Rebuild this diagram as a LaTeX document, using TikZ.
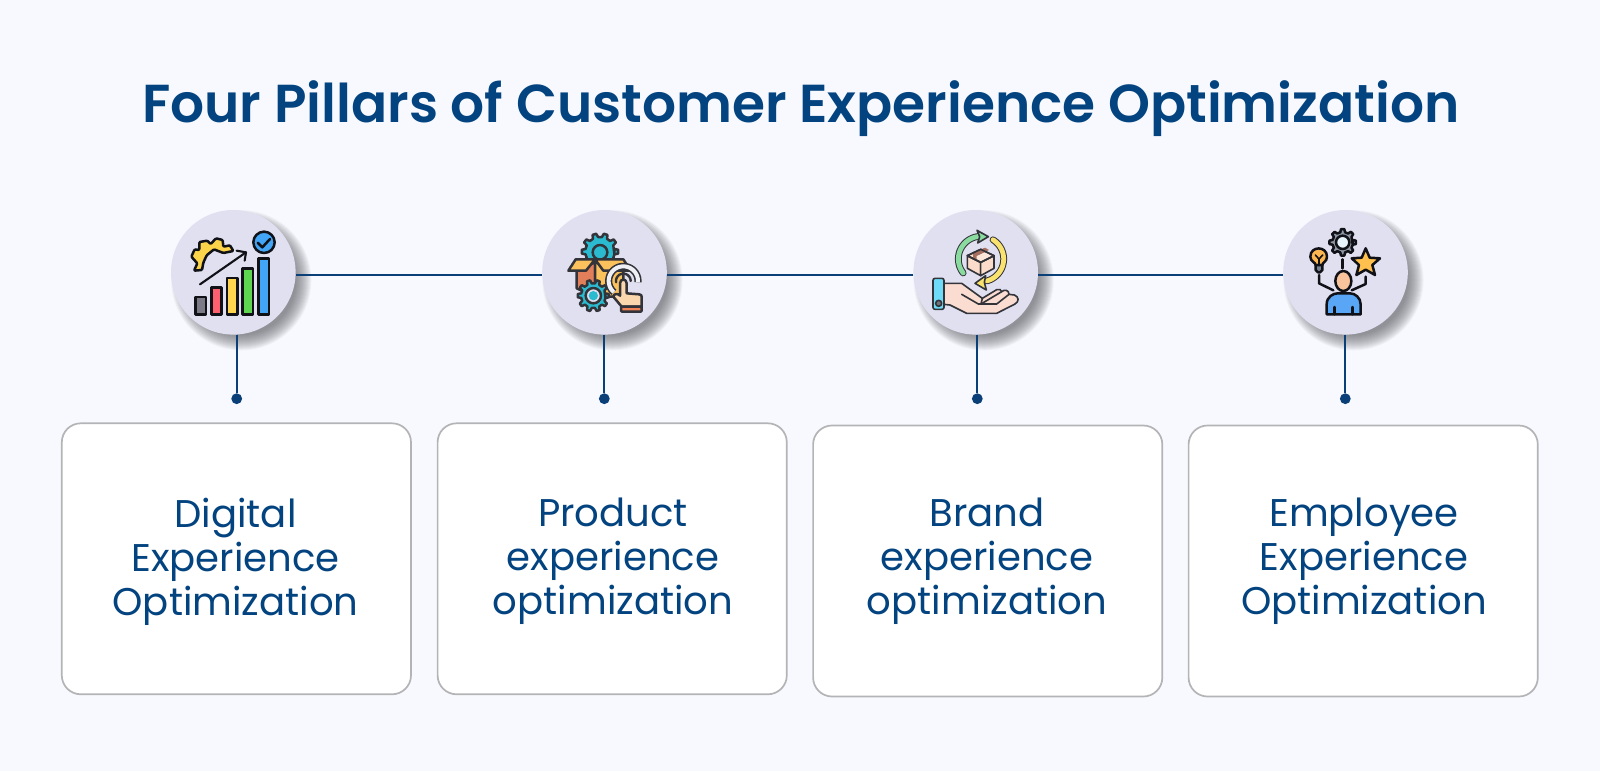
\documentclass[tikz,border=0pt]{standalone}
\usepackage{fontspec}
\setmainfont{Poppins}[BoldFont={Poppins SemiBold}]
\definecolor{bgc}{HTML}{F7F9FE}
\definecolor{navy}{HTML}{03437F}
\definecolor{linec}{HTML}{0A3F78}
\definecolor{circ}{HTML}{E1E0F1}
\definecolor{edge}{HTML}{B4B4B6}
\definecolor{ink}{HTML}{111118}
\definecolor{ink2}{HTML}{33333A}
\definecolor{shadowc}{HTML}{55555C}
\definecolor{cgear}{HTML}{FBD44A}
\definecolor{cgray}{HTML}{7C7A86}
\definecolor{cred}{HTML}{FF6070}
\definecolor{cyel}{HTML}{FFD54F}
\definecolor{cgrn}{HTML}{5FD64F}
\definecolor{cblu}{HTML}{42A5F5}
\definecolor{cteal}{HTML}{2BBBD0}
\definecolor{cdorange}{HTML}{E07F5A}
\definecolor{cbox}{HTML}{FBC15C}
\definecolor{cring}{HTML}{EFEFF6}
\definecolor{cpeach}{HTML}{FAD7AC}
\definecolor{ccuff}{HTML}{F08255}
\definecolor{chand}{HTML}{FADCD0}
\definecolor{csky}{HTML}{6EDCF8}
\definecolor{cbtn}{HTML}{73737A}
\definecolor{ccube}{HTML}{FBDCCB}
\definecolor{ccubet}{HTML}{FDE6DA}
\definecolor{ctape}{HTML}{A56E5F}
\definecolor{cmint}{HTML}{8ADBA0}
\definecolor{clemon}{HTML}{F9E36E}
\definecolor{csteel}{HTML}{8D97A6}
\definecolor{cice}{HTML}{E8F4FC}
\definecolor{cbulb}{HTML}{FDB750}
\definecolor{cbase}{HTML}{788291}
\definecolor{cstar}{HTML}{FFC04D}
\definecolor{cshirt}{HTML}{58A6F5}
\definecolor{cskin}{HTML}{F9C39B}
\tikzset{
  circlenode/.style={circle,fill=circ,minimum size=62.3pt,inner sep=0pt,outer sep=0pt},
  cardbox/.style={draw=edge,fill=white,line width=0.85pt,rounded corners=9.5pt,minimum width=174.6pt,minimum height=135.5pt,inner sep=0pt},
  cardtext/.style={text=navy,align=center,font=\fontsize{19.3}{22}\selectfont,inner sep=0pt},
  titletext/.style={text=navy,font=\bfseries\fontsize{26.7}{32}\selectfont,inner sep=0pt},
  linkline/.style={draw=linec,line width=0.95pt},
  dotnode/.style={circle,fill=linec,minimum size=5.4pt,inner sep=0pt},
  icon/.style={line width=1.25pt,line join=round,line cap=round},
  zoomed/.style={x=0.16667pt,y=-0.16667pt}
}
% style, cx, cy, outer, inner, teeth
\newcommand{\gearat}[6]{%
  \path[#1] ({#2+#5*cos(-108/#6)},{#3-#5*sin(-108/#6)})
    \foreach \gi in {1,...,#6}{
      -- ({#2+#5*cos(360*\gi/#6-108/#6)},{#3-#5*sin(360*\gi/#6-108/#6)})
      -- ({#2+#4*cos(360*\gi/#6-58/#6)},{#3-#4*sin(360*\gi/#6-58/#6)})
      -- ({#2+#4*cos(360*\gi/#6+58/#6)},{#3-#4*sin(360*\gi/#6+58/#6)})
      -- ({#2+#5*cos(360*\gi/#6+108/#6)},{#3-#5*sin(360*\gi/#6+108/#6)})
    } -- cycle;}
% style, cx, cy, r, a1, a2
\newcommand{\ringarc}[6]{%
  \draw[#1] plot[smooth,domain=#5:#6,samples=30] ({#2+#4*cos(\x)},{#3-#4*sin(\x)});}
% cx, cy
\newcommand{\softshadow}[2]{%
  \foreach \sr in {55,56,...,70}{\fill[shadowc,opacity=0.055] ({#1+8},{#2+8}) circle[radius=\sr];}}
\begin{document}
\begin{tikzpicture}[x=0.5pt,y=-0.5pt]
\useasboundingbox (0,0) rectangle (1600,771);
\fill[bgc] (0,0) rectangle (1600,771);

\node[titletext,anchor=base] (title) at (801,122.7) {Four Pillars of Customer Experience Optimization};

% cards
\node[cardbox] (b1) at (236.4,558.8) {};
\node[cardbox] (b2) at (612.2,558.8) {};
\node[cardbox] (b3) at (987.7,561) {};
\node[cardbox] (b4) at (1363.2,561) {};
\node[cardtext] (t1) at (235.5,561.5) {Digital\\Experience\\Optimization};
\node[cardtext] (t2) at (613,561.5) {Product\\experience\\optimization};
\node[cardtext] (t3) at (987,561.5) {Brand\\experience\\optimization};
\node[cardtext] (t4) at (1364,561.5) {Employee\\Experience\\Optimization};

% circles
\softshadow{233.3}{272.3}
\softshadow{604.5}{272.3}
\softshadow{975.7}{272.3}
\softshadow{1345.5}{272.3}
\node[circlenode] (c1) at (233.3,272.3) {};
\node[circlenode] (c2) at (604.5,272.3) {};
\node[circlenode] (c3) at (975.7,272.3) {};
\node[circlenode] (c4) at (1345.5,272.3) {};

% dots
\node[dotnode] (d1) at (236.7,398.7) {};
\node[dotnode] (d2) at (604.3,398.7) {};
\node[dotnode] (d3) at (977.3,398.7) {};
\node[dotnode] (d4) at (1345.3,398.7) {};

% connectors
\draw[linkline] ([yshift=-1.35pt]c1.east) -- ([yshift=-1.35pt]c2.west);
\draw[linkline] ([yshift=-1.35pt]c2.east) -- ([yshift=-1.35pt]c3.west);
\draw[linkline] ([yshift=-1.35pt]c3.east) -- ([yshift=-1.35pt]c4.west);
\draw[linkline] (d1 |- c1.south) -- (d1);
\draw[linkline] (d2 |- c2.south) -- (d2);
\draw[linkline] (d3 |- c3.south) -- (d3);
\draw[linkline] (d4 |- c4.south) -- (d4);

% icon 1
\begin{scope}[shift={(180,220)},zoomed,icon,draw=ink]
  \draw[fill=cgear,rounded corners=0.5pt]
    (42,152) -- (52,130) -- (34,110) -- (44,88) -- (58,90) -- (58,66) -- (82,62) -- (92,72) -- (108,55) -- (128,60) -- (130,80) -- (150,76) -- (160,93)
    -- (130,99) -- (102,88) -- (80,106) -- (70,128) -- (66,150) -- cycle;
  \draw[line width=1.05pt] (60,193) -- (198,97);
  \draw[line width=1.05pt] (170,92) -- (198,97) -- (194,122);
  \draw[fill=cgray] (47,231) rectangle (78,283);
  \draw[fill=cred] (94,203) rectangle (125,283);
  \draw[fill=cyel] (141,174) rectangle (172,283);
  \draw[fill=cgrn] (188,145) rectangle (219,283);
  \draw[fill=cblu] (236,116) rectangle (267,283);
  \draw[fill=cblu] (252,67) circle[radius=32];
  \draw (233,68) -- (247,82) -- (270,57);
\end{scope}

% icon 2
\begin{scope}[shift={(560,225)},zoomed,icon,draw=ink2]
  \gearat{draw,fill=cteal}{120}{80}{55}{44}{10}
  \draw[fill=cteal] (120,82) circle[radius=22];
  \draw[fill=cdorange] (50,137) -- (105,112) -- (105,215) -- (50,190) -- cycle;
  \draw[fill=cbox] (105,112) -- (190,137) -- (190,215) -- (105,215) -- cycle;
  \draw[fill=cbox] (25,137) -- (47,103) -- (105,103) -- (78,137) -- cycle;
  \draw[fill=cbox] (105,103) -- (190,103) -- (212,137) -- (130,137) -- cycle;
  \gearat{draw,fill=cteal}{100}{212}{47}{37}{10}
  \draw[fill=circ] (100,212) circle[radius=23];
  \fill[cteal] (100,212) circle[radius=14];
  \ringarc{ink2,line width=3.6pt,line cap=butt}{190}{168}{44}{-5}{230}
  \ringarc{cring,line width=2pt,line cap=butt}{190}{168}{44}{-5}{230}
  \ringarc{ink2,line width=1.2pt}{190}{168}{22}{0}{190}
  \draw[fill=cpeach] (180,175) .. controls (180,160) and (200,160) .. (200,175) -- (200,205) -- (238,208) .. controls (245,208) and (245,212) .. (245,218) -- (245,245) -- (185,245) -- (160,215) .. controls (160,205) and (175,205) .. (180,212) -- cycle;
  \draw[fill=ccuff,rounded corners=0.5pt] (183,245) rectangle (245,260);
\end{scope}

% icon 3
\begin{scope}[shift={(925,225)},zoomed,icon,draw=ink2,line width=0.8pt]
  \draw[fill=chand]
    (57,175) -- (110,175) -- (172,220) -- (215,194) .. controls (222,190) and (230,195) .. (230,200)
    .. controls (238,192) and (252,195) .. (252,208) -- (268,210) .. controls (282,215) and (283,230) .. (270,237)
    -- (215,265) -- (125,265) -- (75,240) -- (57,238) -- cycle;
  \draw (110,208) -- (160,237) -- (215,237) -- (252,208);
  \draw (172,220) -- (168,237);
  \draw (168,237) -- (230,200);
  \draw[fill=csky,rounded corners=1pt] (24,160) rectangle (57,253);
  \draw[fill=cbtn] (41,235) circle[radius=9];
  \draw[fill=ccube] (127,92) -- (167,112) -- (167,152) -- (127,130) -- cycle;
  \draw[fill=ccube] (207,92) -- (167,112) -- (167,152) -- (207,130) -- cycle;
  \draw[fill=ccubet] (127,92) -- (167,73) -- (207,92) -- (167,112) -- cycle;
  \fill[ctape] (143,84) -- (180,68) -- (192,75) -- (155,93) -- (155,105) -- (145,100) -- cycle;
  \draw (127,92) -- (167,73) -- (207,92) -- (167,112) -- cycle;
  \ringarc{ink2,line width=3.4pt}{168}{102}{68}{218}{95}
  \ringarc{cmint,line width=2.4pt}{168}{102}{68}{218}{95}
  \draw[fill=cmint] (156,16) -- (190,35) -- (158,54) -- (164,35) -- cycle;
  \ringarc{ink2,line width=3.4pt}{168}{102}{68}{58}{-75}
  \ringarc{clemon,line width=2.4pt}{168}{102}{68}{58}{-75}
  \draw[fill=clemon] (182,152) -- (150,175) -- (184,195) -- (178,172) -- cycle;
\end{scope}

% icon 4
\begin{scope}[shift={(1300,225)},zoomed,icon,draw=ink]
  \gearat{draw,fill=csteel}{128}{52}{40}{31}{8}
  \draw[fill=cice] (128,52) circle[radius=20];
  \draw (128,103) -- (128,130);
  \draw (57,150) -- (57,175) -- (100,196);
  \draw (197,155) -- (197,177) -- (155,196);
  \draw[fill=cbulb] (47,120) .. controls (47,112) and (31,110) .. (31,95) .. controls (31,62) and (81,62) .. (81,95) .. controls (81,110) and (67,112) .. (67,120) -- cycle;
  \draw[fill=cbase] (47,120) -- (67,120) -- (67,135) -- (60,142) -- (54,142) -- (47,135) -- cycle;
  \draw[line width=0.8pt] (57,120) -- (57,102) -- (46,90);
  \draw[line width=0.8pt] (57,102) -- (68,90);
  \draw[fill=cstar]
    (197,70) -- (209,98) -- (240,100) -- (217,120) -- (225,150) -- (197,134) -- (169,150) -- (177,120) -- (155,100) -- (185,98) -- cycle;
  \draw[fill=cshirt] (80,268) -- (80,238) .. controls (80,215) and (100,205) .. (113,205) -- (150,205) .. controls (165,205) and (182,218) .. (182,238) -- (182,268) -- cycle;
  \draw (104,268) -- (104,246);
  \draw (158,268) -- (158,246);
  \draw[fill=cskin] (130,168) ellipse[x radius=24,y radius=30];
\end{scope}
\end{tikzpicture}
\end{document}
